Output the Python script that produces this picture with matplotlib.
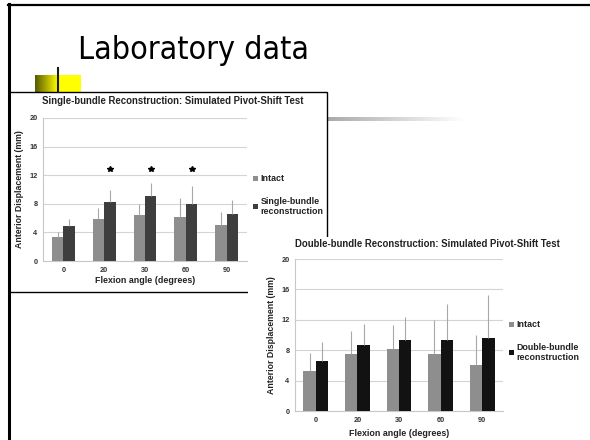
import matplotlib.pyplot as plt
import numpy as np
from matplotlib.patches import Rectangle
from matplotlib.lines import Line2D

W, H = 590, 440

angles = ['0', '20', '30', '60', '90']

# single-bundle chart
sb_intact = [3.4, 5.9, 6.45, 6.2, 5.05]
sb_intact_err = [0.7, 1.5, 1.55, 2.6, 1.85]
sb_recon = [4.95, 8.2, 9.1, 8.0, 6.55]
sb_recon_err = [0.95, 1.7, 1.8, 2.5, 2.05]
sb_signif = [False, True, True, True, False]
star_level = 12.9

# double-bundle chart
db_intact = [5.2, 7.5, 8.1, 7.5, 6.07]
db_intact_err = [2.4, 3.0, 3.2, 4.5, 3.95]
db_recon = [6.6, 8.7, 9.3, 9.3, 9.6]
db_recon_err = [2.5, 2.8, 3.05, 4.8, 5.6]

yticks = [0, 4, 8, 12, 16, 20]

FONT = 'Liberation Sans'


def px_rect(x0, y0, x1, y1):
    return [x0 / W, 1 - y1 / H, (x1 - x0) / W, (y1 - y0) / H]


def fx(x):
    return x / W


def fy(y):
    return 1 - y / H


def bar_chart(ax, intact, intact_err, recon, recon_err, dark, label2, bw, xpad):
    x = np.arange(len(angles))
    zeros = np.zeros(len(angles))
    ekw = dict(ecolor='#a8a8a8', elinewidth=0.8, capsize=0)
    ax.bar(x - bw / 2, intact, bw, color='#8e8e8e', label='Intact',
           yerr=[zeros, intact_err], error_kw=ekw, zorder=3)
    ax.bar(x + bw / 2, recon, bw, color=dark, label=label2,
           yerr=[zeros, recon_err], error_kw=ekw, zorder=3)
    ax.set_xlim(-0.5, len(angles) - 0.5)
    ax.set_ylim(0, 20)
    ax.set_yticks(yticks)
    ax.set_xticks(x)
    ax.set_xticklabels(angles)
    ax.grid(axis='y', color='#d4d4d4', lw=0.8, zorder=0)
    for s in ['top', 'right']:
        ax.spines[s].set_visible(False)
    for s in ['left', 'bottom']:
        ax.spines[s].set_color('#c8c8c8')
        ax.spines[s].set_linewidth(0.8)
    ax.tick_params(length=0, labelsize=5.3, colors='#333333', pad=4)
    for t in ax.get_xticklabels() + ax.get_yticklabels():
        t.set_fontweight('bold')
        t.set_fontfamily(FONT)
    ax.set_xlabel('Flexion angle (degrees)', fontsize=6.4, fontweight='bold',
                  family=FONT, color='#222222', labelpad=xpad)
    ax.set_ylabel('Anterior Displacement (mm)', fontsize=6.3, fontweight='bold',
                  family=FONT, color='#222222', labelpad=4)
    ax.set_facecolor('none')
    leg = ax.legend(loc='center left', bbox_to_anchor=(1.0, 0.46), frameon=False,
                    handlelength=0.5, handleheight=0.5, handletextpad=0.3,
                    labelspacing=1.5, borderaxespad=0.3,
                    prop=dict(family=FONT, weight='bold', size=6.4))
    for t in leg.get_texts():
        t.set_color('#222222')
    return x


fig = plt.figure(figsize=(W / 100, H / 100), dpi=100)

# slide frame
fig.add_artist(Line2D([fx(9), fx(9)], [fy(4), 0], color='black', lw=2.2, zorder=4))
fig.add_artist(Line2D([fx(8), 1], [fy(5), fy(5)], color='black', lw=1.6, zorder=4))
fig.text(fx(78), fy(59), 'Laboratory data', fontsize=23, family='DejaVu Sans',
         fontstretch='condensed', color='black', va='baseline', ha='left')

# yellow bullet block
bax = fig.add_axes(px_rect(35, 75, 81, 92))
grad = np.ones((1, 100, 3))
t = np.clip(np.linspace(0, 1, 100) / 0.5, 0, 1)
grad[0, :, 0] = 0.35 + 0.65 * t
grad[0, :, 1] = 0.35 + 0.65 * t
grad[0, :, 2] = 0.0
bax.imshow(grad, aspect='auto', extent=[0, 1, 0, 1])
bax.axis('off')
fig.add_artist(Line2D([fx(58), fx(58)], [fy(68), fy(92)], color='#1a1a1a', lw=1.5, zorder=4))

# grey underline bar
gax = fig.add_axes(px_rect(300, 117, 465, 121))
g = np.linspace(0.6, 1.0, 100)
gax.imshow(np.dstack([g, g, g]).reshape(1, 100, 3), aspect='auto', extent=[0, 1, 0, 1])
gax.axis('off')

# chart image boxes
fig.add_artist(Rectangle((fx(9), fy(292)), fx(327) - fx(9), fy(92) - fy(292),
                         facecolor='white', edgecolor='black', lw=1.0, zorder=1.5))
fig.add_artist(Rectangle((fx(248), 0), 1 - fx(248), fy(237),
                         facecolor='white', edgecolor='none', zorder=1.7))

# chart 1
ax1 = fig.add_axes(px_rect(43, 118, 247, 261))
ax1.set_zorder(3)
x1 = bar_chart(ax1, sb_intact, sb_intact_err, sb_recon, sb_recon_err, '#3e3e3e',
               'Single-bundle\nreconstruction', 0.28, 2)
sx = [xi + 0.14 for xi, s in zip(x1, sb_signif) if s]
ax1.plot(sx, [star_level] * len(sx), linestyle='none', marker='*', color='black',
         markersize=4.2, zorder=4)
fig.text(fx(173), fy(101), 'Single-bundle Reconstruction: Simulated Pivot-Shift Test',
         fontsize=6.9, fontweight='bold', family=FONT, ha='center', va='center',
         color='#222222', zorder=5)

# chart 2
ax2 = fig.add_axes(px_rect(295, 259, 503, 411))
ax2.set_zorder(3)
bar_chart(ax2, db_intact, db_intact_err, db_recon, db_recon_err, '#121212',
          'Double-bundle\nreconstruction', 0.3, 4)
fig.text(fx(427), fy(244), 'Double-bundle Reconstruction: Simulated Pivot-Shift Test',
         fontsize=6.9, fontweight='bold', family=FONT, ha='center', va='center',
         color='#222222', zorder=5)

fig.savefig('out.png', dpi=100)
